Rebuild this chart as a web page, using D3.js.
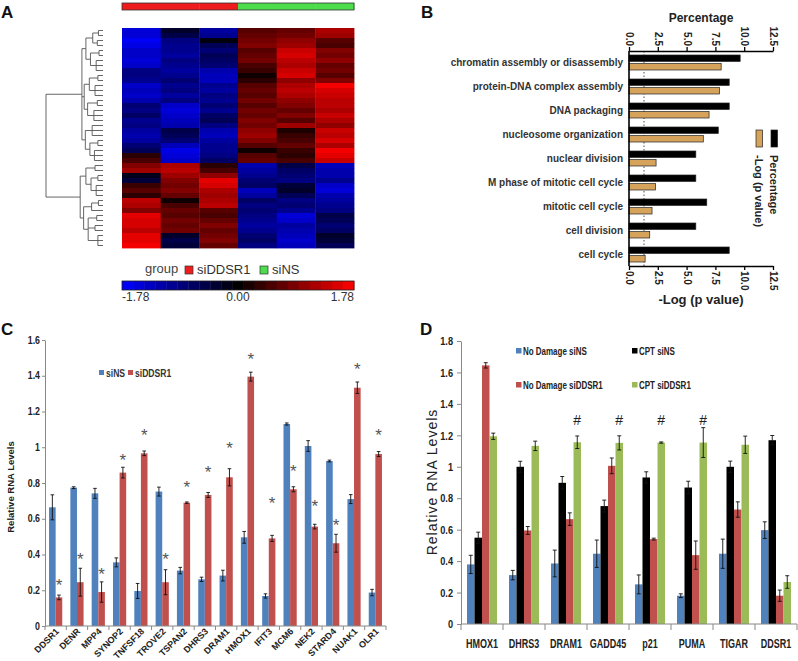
<!DOCTYPE html>
<html><head><meta charset="utf-8">
<script src="https://cdn.jsdelivr.net/npm/d3@7"></script>
<style>
body{margin:0;background:#fff}
svg{display:block}
text{font-family:"Liberation Sans",Arial,sans-serif}
</style>
</head><body>
<svg id="c" width="798" height="661"></svg>
<script>
// ---------------- Panel A data ----------------
const heatSamples = ["siDDSR1_1","siDDSR1_2","siDDSR1_3","siNS_1","siNS_2","siNS_3"];
const sampleGroups = ["siDDSR1","siDDSR1","siDDSR1","siNS","siNS","siNS"];
const groupNames = ["siDDSR1","siNS"];
const heatRows = [
 [-1.5,-0.3,-1.1,0.6,0.7,1.2],
 [-1.5,-0.5,-1.0,0.7,0.8,1.1],
 [-1.7,-0.9,-0.1,0.8,1.0,0.6],
 [-1.6,-1.0,-0.6,0.9,1.1,0.5],
 [-1.4,-1.0,-0.8,0.6,1.4,0.9],
 [-1.4,-1.1,-0.6,0.7,1.5,0.8],
 [-1.5,-0.9,-0.7,0.8,1.3,1.0],
 [-1.4,-1.0,-0.8,0.5,1.2,0.7],
 [-0.9,-1.1,-1.2,0.4,1.4,0.8],
 [-0.9,-1.0,-1.3,0.1,1.5,0.6],
 [-1.0,-0.8,-1.3,0.3,1.0,0.9],
 [-1.4,-1.0,-1.0,0.6,1.2,1.7],
 [-1.3,-0.9,-1.1,0.7,1.3,1.5],
 [-1.4,-1.1,-0.9,0.6,1.2,1.4],
 [-1.2,-0.9,-1.0,0.8,1.0,1.3],
 [-0.8,-1.4,-0.8,0.6,0.9,1.3],
 [-0.9,-1.5,-1.0,0.8,0.7,1.2],
 [-0.7,-1.4,-0.7,0.7,0.9,1.4],
 [-1.0,-1.3,-0.6,0.9,0.6,1.2],
 [-0.9,-1.2,-0.9,0.8,1.1,1.0],
 [-1.1,-0.5,-1.2,1.0,0.2,1.4],
 [-1.2,-0.6,-1.3,1.1,0.4,1.3],
 [-1.1,-0.8,-1.1,0.9,0.5,1.5],
 [-0.8,-1.3,-1.0,0.6,0.7,1.2],
 [-0.6,-1.6,-1.0,0.1,0.4,1.7],
 [0.3,-1.5,-0.9,0.6,0.3,1.6],
 [0.5,-1.4,-0.7,0.7,0.5,1.4],
 [0.9,1.2,0.3,-1.2,-0.5,-1.3],
 [1.1,1.3,0.5,-1.1,-0.7,-1.2],
 [-0.2,1.1,1.0,-1.0,-0.8,-1.2],
 [-0.4,0.9,1.6,-0.8,-0.9,-1.0],
 [0.4,0.8,1.5,-0.7,-0.4,-1.4],
 [0.6,0.9,1.2,-1.3,-0.3,-1.5],
 [0.3,0.7,1.1,-1.1,-0.6,-1.2],
 [1.3,0.1,1.2,-0.7,-0.9,-1.1],
 [1.2,0.5,1.3,-0.9,-0.8,-1.0],
 [0.9,0.7,0.6,-0.8,-1.0,-0.9],
 [1.6,0.6,0.5,-0.9,-1.5,-0.5],
 [1.5,0.8,0.7,-1.0,-1.4,-0.6],
 [1.5,0.7,0.9,-1.1,-1.1,-0.8],
 [1.3,0.8,0.7,-1.0,-1.2,-0.7],
 [1.6,-0.3,0.8,-0.8,-1.3,-0.3],
 [1.6,-0.5,0.9,-0.7,-1.4,-0.4],
 [1.7,-0.4,0.7,-0.9,-1.3,-0.6]
];
const colorLimits = [-1.78, 0, 1.78];
const colorLimitLabels = ["-1.78","0.00","1.78"];
// dendrogram: [mergeHeight, child, child, ...]; numbers are row indices
const dendroTree = [1.0,
 [0.37,
   [0.30,[0.18,[0.08,0,1],[0.10,2,3]],[0.22,[0.07,4,5],[0.12,6,7,8]]],
   [0.33,[0.24,[0.09,9,10],[0.14,11,12,13]],[0.27,[0.10,14,15],[0.16,16,17,18]]],
   [0.31,[0.19,19,20,21],[0.23,[0.09,22,23],[0.15,24,25,26]]]],
 [0.40,
   [0.30,[0.14,27,28],[0.21,[0.09,29,30],[0.12,31,32,33]]],
   [0.34,[0.20,[0.08,34,35],36],[0.26,[0.11,37,38],[0.14,39,40],[0.09,41,42,43]]]]
];

// ---------------- Panel B data ----------------
const goTerms = ["chromatin assembly or disassembly","protein-DNA complex assembly","DNA packaging",
 "nucleosome organization","nuclear division","M phase of mitotic cell cycle","mitotic cell cycle",
 "cell division","cell cycle"];
const goPercentage = [9.65,8.7,8.7,7.75,5.8,5.8,6.75,5.8,8.7];
const goLogP = [8.0,7.85,6.95,6.45,2.35,2.3,2.0,1.8,1.4];
const goTicks = [0,2.5,5,7.5,10,12.5];
const goThreshold = 1.3;
const goSeries = ["Percentage","-Log (p value)"];

// ---------------- Panel C data ----------------
const cGenes = ["DDSR1","DENR","MPP4","SYNOP2","TNFSF18","TROVE2","TSPAN2","DHRS3","DRAM1","HMOX1","IFIT3","MCM6","NEK2","STARD4","NUAK1","OLR1"];
const cSiNS      = [0.664,0.774,0.742,0.356,0.196,0.752,0.310,0.261,0.282,0.496,0.168,1.130,1.007,0.923,0.710,0.187];
const cSiNSErr   = [0.070,0.005,0.028,0.025,0.042,0.025,0.018,0.012,0.030,0.033,0.012,0.006,0.030,0.005,0.025,0.018];
const cSiDDSR1    = [0.160,0.245,0.190,0.858,0.966,0.245,0.690,0.733,0.832,1.395,0.490,0.765,0.556,0.463,1.333,0.962];
const cSiDDSR1Err = [0.013,0.078,0.057,0.030,0.013,0.070,0.004,0.014,0.048,0.025,0.017,0.014,0.013,0.050,0.032,0.014];
const cStar = [0.248,0.397,0.313,0.948,1.088,0.397,0.798,0.882,1.013,1.516,0.705,0.884,0.690,0.584,1.460,1.088];
const cTicks = [0,0.2,0.4,0.6,0.8,1,1.2,1.4,1.6];
const cSeries = ["siNS","siDDSR1"];

// ---------------- Panel D data ----------------
const dGenes = ["HMOX1","DHRS3","DRAM1","GADD45","p21","PUMA","TIGAR","DDSR1"];
const dSeries = ["No Damage siNS","CPT siNS","No Damage siDDSR1","CPT siDDSR1"];
const dNoDamageSiNS       = [0.379,0.311,0.385,0.447,0.252,0.180,0.447,0.597];
const dNoDamageSiNSErr    = [0.058,0.030,0.085,0.087,0.060,0.012,0.093,0.053];
const dCptSiNS            = [0.549,1.000,0.898,0.750,0.932,0.868,1.000,1.169];
const dCptSiNSErr         = [0.035,0.035,0.040,0.038,0.036,0.040,0.036,0.030];
const dNoDamageSiDDSR1    = [1.645,0.595,0.667,1.006,0.540,0.438,0.728,0.180];
const dNoDamageSiDDSR1Err = [0.017,0.025,0.040,0.050,0.006,0.090,0.049,0.036];
const dCptSiDDSR1         = [1.194,1.133,1.156,1.152,1.154,1.154,1.140,0.267];
const dCptSiDDSR1Err      = [0.020,0.030,0.040,0.045,0.004,0.095,0.055,0.040];
const dHash = ["DRAM1","GADD45","p21","PUMA"];
const dHashLevel = 1.30;
const dTicks = [0,0.2,0.4,0.6,0.8,1,1.2,1.4,1.6,1.8];

// =====================================================
const svg = d3.select("#c");
const fmtExcel = d => String(+d.toFixed(1));

function panelLabel(t,x,y){
  svg.append("text").attr("x",x).attr("y",y).attr("font-size",17).attr("font-weight","bold").attr("fill","#111").text(t);
}
panelLabel("A",1,18); panelLabel("B",421,18); panelLabel("C",1,335); panelLabel("D",420,335);

// ---------------- Panel A ----------------
const gA = svg.append("g");
const xH = d3.scaleBand().domain(heatSamples).range([122,354]);
const yH = d3.scaleBand().domain(d3.range(heatRows.length)).range([28,248]);
const heatColor = d3.scaleLinear().domain(colorLimits).range(["#0000ff","#000000","#ff0000"]).clamp(true);
const groupColor = d3.scaleOrdinal().domain(groupNames).range(["#ee1c1c","#4cdc4c"]);

const cells = heatRows.flatMap((row,i)=>row.map((v,j)=>({i,j,v})));
gA.selectAll("rect.cell").data(cells).join("rect").attr("class","cell")
  .attr("x",d=>xH(heatSamples[d.j])).attr("y",d=>yH(d.i))
  .attr("width",xH.bandwidth()+0.4).attr("height",yH.bandwidth()+0.4)
  .attr("fill",d=>heatColor(d.v));

gA.selectAll("rect.grp").data(heatSamples).join("rect").attr("class","grp")
  .attr("x",d=>xH(d)).attr("y",3).attr("width",xH.bandwidth()+0.4).attr("height",7)
  .attr("fill",(d,i)=>groupColor(sampleGroups[i]));
gA.append("rect").attr("x",122).attr("y",3).attr("width",232).attr("height",7)
  .attr("fill","none").attr("stroke","#333").attr("stroke-width",0.8);

const xDen = d3.scaleLinear().domain([0,1]).range([103,46]);
const denG = gA.append("g").attr("stroke","#555").attr("stroke-width",0.9).attr("fill","none");
function drawNode(node){
  if (typeof node === "number") return {x:xDen(0), y:yH(node)+yH.bandwidth()/2};
  const h = node[0];
  const kids = node.slice(1).map(drawNode);
  const xN = xDen(h);
  kids.forEach(k=>denG.append("line").attr("x1",k.x).attr("x2",xN).attr("y1",k.y).attr("y2",k.y));
  const ys = kids.map(k=>k.y);
  const y0 = d3.min(ys), y1 = d3.max(ys);
  denG.append("line").attr("x1",xN).attr("x2",xN).attr("y1",y0).attr("y2",y1);
  return {x:xN, y:(y0+y1)/2};
}
drawNode(dendroTree);

gA.append("text").attr("x",145).attr("y",273).attr("font-size",13).attr("fill","#444").text("group");
const legA = [{n:"siDDSR1",sx:185,tx:197},{n:"siNS",sx:260,tx:272}];
legA.forEach(l=>{
  gA.append("rect").attr("x",l.sx).attr("y",266).attr("width",8).attr("height",8)
    .attr("fill",groupColor(l.n)).attr("stroke","#333").attr("stroke-width",0.7);
  gA.append("text").attr("x",l.tx).attr("y",274).attr("font-size",13).attr("fill","#333").text(l.n);
});
const xCB = d3.scaleLinear().domain([colorLimits[0],colorLimits[2]]).range([122,354]);
const nSteps = 21, stepW = (colorLimits[2]-colorLimits[0])/nSteps;
const steps = d3.range(nSteps).map(i=>colorLimits[0]+i*stepW);
gA.selectAll("rect.cb").data(steps).join("rect").attr("class","cb")
  .attr("x",d=>xCB(d)).attr("y",281).attr("width",xCB(stepW)-xCB(0)+0.4).attr("height",9)
  .attr("fill",d=>heatColor(d+stepW/2));
gA.append("rect").attr("x",122).attr("y",281).attr("width",232).attr("height",9)
  .attr("fill","none").attr("stroke","#222").attr("stroke-width",0.8);
colorLimits.forEach((v,i)=>{
  gA.append("text").attr("x",xCB(v)).attr("y",301).attr("font-size",12).attr("fill","#333")
    .attr("text-anchor",["start","middle","end"][i]).text(colorLimitLabels[i]);
});

// ---------------- Panel B ----------------
const gB = svg.append("g");
const xB = d3.scaleLinear().domain([0,12.5]).range([629,773]);
const yB = d3.scaleBand().domain(goTerms).range([50.5,266.5]);
const ySub = d3.scaleBand().domain(goSeries).range([4.5,19.5]).paddingInner(0.25);
const bColor = d3.scaleOrdinal().domain(goSeries).range(["#000000","#d6a35c"]);

gB.append("line").attr("x1",xB(goThreshold)).attr("x2",xB(goThreshold)).attr("y1",51).attr("y2",266)
  .attr("stroke","#777").attr("stroke-width",1.3).attr("stroke-dasharray","1.5,2");

const bBars = goTerms.flatMap((t,i)=>[{t,s:goSeries[0],v:goPercentage[i]},{t,s:goSeries[1],v:goLogP[i]}]);
gB.selectAll("rect.bar").data(bBars).join("rect").attr("class","bar")
  .attr("x",xB(0)).attr("y",d=>yB(d.t)+ySub(d.s)).attr("width",d=>xB(d.v)-xB(0))
  .attr("height",ySub.bandwidth()).attr("fill",d=>bColor(d.s)).attr("stroke","#222").attr("stroke-width",0.7);

const axTop = gB.append("g").attr("transform","translate(0,51)")
  .call(d3.axisTop(xB).tickValues(goTicks).tickSize(4).tickSizeOuter(0).tickFormat(d3.format(".1f")));
const axBot = gB.append("g").attr("transform","translate(0,266)")
  .call(d3.axisBottom(xB).tickValues(goTicks).tickSize(4).tickSizeOuter(0).tickFormat(d3.format(".1f")));
[axTop,axBot].forEach(a=>{
  a.select(".domain").attr("stroke","#000").attr("stroke-width",1.6);
  a.selectAll(".tick line").attr("stroke","#000").attr("stroke-width",1.3);
  a.selectAll("text").attr("font-size",10).attr("font-weight","bold").attr("fill","#222")
    .attr("font-family",'"Liberation Sans",Arial,sans-serif');
});
axTop.selectAll("text").attr("x",0).attr("y",0).attr("dy","0.35em")
  .attr("transform","translate(0,-5) rotate(90)").attr("text-anchor","end");
axBot.selectAll("text").attr("x",0).attr("y",0).attr("dy","0.35em")
  .attr("transform","translate(0,5) rotate(90)").attr("text-anchor","start");
gB.append("line").attr("x1",629).attr("x2",629).attr("y1",51).attr("y2",266).attr("stroke","#000").attr("stroke-width",1.6);

gB.selectAll("text.cat").data(goTerms).join("text").attr("class","cat")
  .attr("x",623).attr("y",d=>yB(d)+yB.bandwidth()/2).attr("dy","0.35em").attr("text-anchor","end")
  .attr("font-size",10).attr("font-weight","bold").attr("fill","#333").text(d=>d);

gB.append("text").attr("x",701).attr("y",21.5).attr("text-anchor","middle").attr("font-size",12)
  .attr("font-weight","bold").attr("fill","#222").text("Percentage");
gB.append("text").attr("x",701).attr("y",304).attr("text-anchor","middle").attr("font-size",13)
  .attr("font-weight","bold").attr("fill","#222").text("-Log (p value)");

const legB = [{s:goSeries[0],x:771},{s:goSeries[1],x:756}];
legB.forEach(l=>{
  gB.append("rect").attr("x",l.x).attr("y",130).attr("width",6.5).attr("height",17)
    .attr("fill",bColor(l.s)).attr("stroke","#222").attr("stroke-width",0.7);
  gB.append("text").attr("transform",`translate(${l.x+3.2},155) rotate(90)`).attr("dy","0.35em")
    .attr("font-size",11).attr("font-weight","bold").attr("fill","#222").text(l.s);
});

// ---------------- Panel C ----------------
const gC = svg.append("g");
const xC = d3.scaleBand().domain(cGenes).range([45,386]);
const yC = d3.scaleLinear().domain([0,1.6]).range([626,340]);
const cColor = d3.scaleOrdinal().domain(cSeries).range(["#4f81bd","#c0504d"]);
const cBW = 6.6;
const cBars = cGenes.flatMap((g,i)=>[
  {g,s:cSeries[0],v:cSiNS[i],e:cSiNSErr[i],off:-cBW},
  {g,s:cSeries[1],v:cSiDDSR1[i],e:cSiDDSR1Err[i],off:0}]);
const cx = d=>xC(d.g)+xC.bandwidth()/2+d.off;
gC.selectAll("rect.bar").data(cBars).join("rect").attr("class","bar")
  .attr("x",cx).attr("y",d=>yC(d.v)).attr("width",cBW).attr("height",d=>yC(0)-yC(d.v))
  .attr("fill",d=>cColor(d.s));
function errBars(g,data,xf,yS,cap){
  const eg = g.append("g").attr("stroke","#111").attr("stroke-width",0.9);
  data.forEach(d=>{
    const x = xf(d);
    eg.append("line").attr("x1",x).attr("x2",x).attr("y1",yS(d.v-d.e)).attr("y2",yS(d.v+d.e));
    [d.v-d.e,d.v+d.e].forEach(v=>eg.append("line").attr("x1",x-cap).attr("x2",x+cap).attr("y1",yS(v)).attr("y2",yS(v)));
  });
}
errBars(gC,cBars,d=>cx(d)+cBW/2,yC,1.8);

const axCy = gC.append("g").attr("transform","translate(45,0)")
  .call(d3.axisLeft(yC).tickValues(cTicks).tickSize(3).tickPadding(3).tickSizeOuter(0).tickFormat(fmtExcel));
axCy.select(".domain").attr("stroke","#888");
axCy.selectAll(".tick line").attr("stroke","#888");
axCy.selectAll("text").attr("font-size",10).attr("font-weight","bold").attr("fill","#222")
  .attr("font-family",'"Liberation Sans",Arial,sans-serif')
  .attr("x",0).attr("transform","translate(-5,0) scale(0.88,1)");
gC.append("line").attr("x1",45).attr("x2",386).attr("y1",626).attr("y2",626).attr("stroke","#888");
gC.selectAll("line.xt").data(cGenes.concat(["__end"])).join("line").attr("class","xt")
  .attr("x1",(d,i)=>i<cGenes.length?xC(d):386).attr("x2",(d,i)=>i<cGenes.length?xC(d):386)
  .attr("y1",626).attr("y2",630).attr("stroke","#888");
gC.selectAll("text.xl").data(cGenes).join("text").attr("class","xl")
  .attr("transform",d=>`translate(${xC(d)+xC.bandwidth()/2+4},632) rotate(-45)`)
  .attr("text-anchor","end").attr("font-size",9).attr("font-weight","bold").attr("fill","#222").text(d=>d);
gC.append("text").attr("transform","translate(14,487) rotate(-90)").attr("text-anchor","middle")
  .attr("font-size",9.5).attr("font-weight","bold").attr("fill","#222").text("Relative RNA Levels");
gC.selectAll("text.star").data(cGenes).join("text").attr("class","star")
  .attr("x",d=>xC(d)+xC.bandwidth()/2+cBW/2).attr("y",(d,i)=>yC(cStar[i])+9.5)
  .attr("text-anchor","middle").attr("font-size",17).attr("fill","#555").text("*");
[{s:cSeries[0],x:99},{s:cSeries[1],x:128}].forEach(l=>{
  gC.append("rect").attr("x",l.x).attr("y",370).attr("width",5).attr("height",5).attr("fill",cColor(l.s));
  gC.append("text").attr("transform",`translate(${l.x+7},377) scale(0.86,1)`).attr("font-size",10).attr("font-weight","bold")
    .attr("fill","#333").text(l.s);
});

// ---------------- Panel D ----------------
const gD = svg.append("g");
const xD = d3.scaleBand().domain(dGenes).range([461,797]);
const yD = d3.scaleLinear().domain([0,1.8]).range([624,341]);
const dColor = d3.scaleOrdinal().domain(dSeries).range(["#4f81bd","#000000","#c0504d","#9bbb59"]);
const dBW = 7.5;
const dSub = d3.scaleBand().domain(dSeries).range([-2*dBW,2*dBW]);
const dVals = [dNoDamageSiNS,dCptSiNS,dNoDamageSiDDSR1,dCptSiDDSR1];
const dErrs = [dNoDamageSiNSErr,dCptSiNSErr,dNoDamageSiDDSR1Err,dCptSiDDSR1Err];
const dBars = dGenes.flatMap((g,i)=>dSeries.map((s,k)=>({g,s,v:dVals[k][i],e:dErrs[k][i]})));
const dx = d=>xD(d.g)+xD.bandwidth()/2+dSub(d.s);
gD.selectAll("rect.bar").data(dBars).join("rect").attr("class","bar")
  .attr("x",dx).attr("y",d=>yD(d.v)).attr("width",dSub.bandwidth()).attr("height",d=>yD(0)-yD(d.v))
  .attr("fill",d=>dColor(d.s));
errBars(gD,dBars,d=>dx(d)+dBW/2,yD,2);

const axDy = gD.append("g").attr("transform","translate(461,0)")
  .call(d3.axisLeft(yD).tickValues(dTicks).tickSize(4).tickPadding(4).tickSizeOuter(0).tickFormat(fmtExcel));
axDy.select(".domain").attr("stroke","#888");
axDy.selectAll(".tick line").attr("stroke","#888");
axDy.selectAll("text").attr("font-size",11.5).attr("font-weight","bold").attr("fill","#222")
  .attr("x",0).attr("transform","translate(-8,0) scale(0.8,1)");
gD.append("line").attr("x1",461).attr("x2",797).attr("y1",624).attr("y2",624).attr("stroke","#888");
gD.selectAll("line.xt").data(dGenes.concat(["__end"])).join("line").attr("class","xt")
  .attr("x1",(d,i)=>i<dGenes.length?xD(d):797).attr("x2",(d,i)=>i<dGenes.length?xD(d):797)
  .attr("y1",624).attr("y2",630).attr("stroke","#888");
gD.selectAll("text.xl").data(dGenes).join("text").attr("class","xl")
  .attr("transform",d=>`translate(${xD(d)+xD.bandwidth()/2},648) scale(0.72,1)`).attr("text-anchor","middle")
  .attr("font-size",12.5).attr("font-weight","bold").attr("fill","#222").text(d=>d);
gD.append("text").attr("transform","translate(437,482) rotate(-90)").attr("text-anchor","middle")
  .attr("font-size",14).attr("letter-spacing",1).attr("fill","#222").text("Relative RNA Levels");
gD.selectAll("text.hash").data(dHash).join("text").attr("class","hash")
  .attr("x",d=>xD(d)+xD.bandwidth()/2+dSub(dSeries[3])+dBW/2).attr("y",yD(dHashLevel)+5)
  .attr("text-anchor","middle").attr("font-size",14).attr("fill","#222").text("#");
const legD = [{x:516,y:348},{x:632,y:348},{x:516,y:382},{x:632,y:382}];
dSeries.forEach((s,k)=>{
  gD.append("rect").attr("x",legD[k].x).attr("y",legD[k].y).attr("width",5.5).attr("height",5.5).attr("fill",dColor(s));
  gD.append("text").attr("transform",`translate(${legD[k].x+7},${legD[k].y+7}) scale(0.76,1)`)
    .attr("font-size",10.5).attr("font-weight","bold").attr("fill","#222").text(s);
});
</script>
</body></html>
